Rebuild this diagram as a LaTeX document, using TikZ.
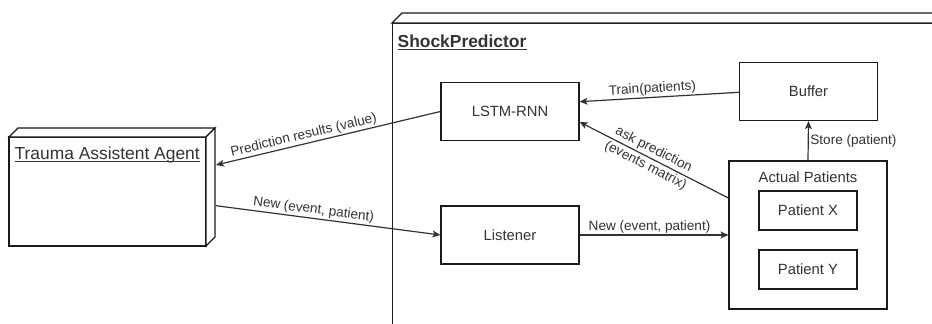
\documentclass[tikz,border=0pt]{standalone}
\usepackage{fontspec}
\setmainfont{Liberation Sans}
\usetikzlibrary{arrows.meta,calc}
\definecolor{ink}{HTML}{333333}
\definecolor{wire}{HTML}{333333}
\definecolor{frame}{HTML}{1A1A1A}
\tikzset{
  box/.style={draw=frame, line width=1.2pt, fill=white, minimum width=138pt,
    minimum height=58pt, inner sep=0pt, text=ink,
    font=\fontsize{14.8}{17}\selectfont},
  solid3d/.style={draw=frame, line width=1.2pt, fill=white, line join=miter},
  title/.style={text=ink, inner sep=0pt, font=\fontsize{17.4}{20}\selectfont},
  uline/.style={draw=ink, line width=1pt},
  conn/.style={draw=wire, line width=1.2pt,
    -{Stealth[length=8pt,width=7pt,inset=2pt]}},
  elabel/.style={text=ink, inner sep=1.5pt, font=\fontsize{13.6}{18}\selectfont},
}
\begin{document}
\begin{tikzpicture}[x=1pt,y=-1pt]
  \useasboundingbox (0,0) rectangle (932,324);
  \clip (0,0) rectangle (932,324);

  % ShockPredictor container (runs off the right and bottom)
  \node[solid3d, anchor=north west, minimum width=600pt, minimum height=330pt]
    (sp) at (392,23) {};
  \draw[solid3d] (sp.north west) -- ++(10,-10) -- ++(620,0) -- ++(-10,10) -- cycle;
  \node[title, anchor=base west] (sptitle) at (397.5,47)
    {\textbf{ShockPredictor}};
  \draw[uline, line width=1.4pt] ($(sptitle.base west)+(0,2.2)$)
    -- ($(sptitle.base east)+(0,2.2)$);

  % Trauma Assistent Agent (3D node)
  \node[solid3d, minimum width=197pt, minimum height=109pt, inner sep=0pt,
        outer sep=0pt] (ta) at (107.5,191.5) {};
  \draw[solid3d] (ta.north west) -- ++(9,-9) -- ($(ta.north east)+(9,-9)$)
    -- (ta.north east) -- cycle;
  \draw[solid3d] (ta.north east) -- ++(9,-9) -- ($(ta.south east)+(9,-9)$)
    -- (ta.south east) -- cycle;
  \node[title, anchor=base west] (tatitle) at (14.5,159)
    {Trauma Assistent Agent};
  \draw[uline] ($(tatitle.base west)+(0,2.2)$) -- ($(tatitle.base east)+(0,2.2)$);

  % inner components
  \node[box] (lstm) at (510,111.5) {LSTM-RNN};
  \node[box] (buf) at (808.5,91.5) {Buffer};
  \node[box] (lis) at (510,235) {Listener};
  \node[box, minimum width=158pt, minimum height=148pt] (ap) at (808,235) {};
  \node[text=ink, inner sep=0pt, font=\fontsize{14.8}{17}\selectfont]
    (aplabel) at (808,177) {Actual Patients};
  \node[box, minimum width=98pt, minimum height=39pt] (px) at (808,210.5) {Patient X};
  \node[box, minimum width=98pt, minimum height=39pt] (py) at (808,269.5) {Patient Y};

  % connectors
  \draw[conn] (lstm.west) -- ($(ta.east)+(10,-26.5)$)
    node[elabel, sloped, above, pos=0.6] {Prediction results (value)};
  \draw[conn] ($(ta.east)+(10,14.2)$) -- (lis.west)
    node[elabel, sloped, above, pos=0.43] {New (event, patient)};
  \draw[conn] (lis.east) -- (ap.west)
    node[elabel, above, pos=0.47] {New (event, patient)};
  \draw[conn] ($(ap.west)+(0,-37)$) -- ($(lstm.east)+(0,10.5)$)
    node[elabel, sloped, pos=0.53, align=center] {ask prediction\\(events matrix)};
  \draw[conn] ($(buf.west)+(0,0.8)$) -- ($(lstm.east)+(0,-9.8)$)
    node[elabel, sloped, above, pos=0.54] {Train(patients)};
  \draw[conn] (ap.north) -- (buf.south)
    node[elabel, right, pos=0.5] {Store (patient)};
\end{tikzpicture}
\end{document}
